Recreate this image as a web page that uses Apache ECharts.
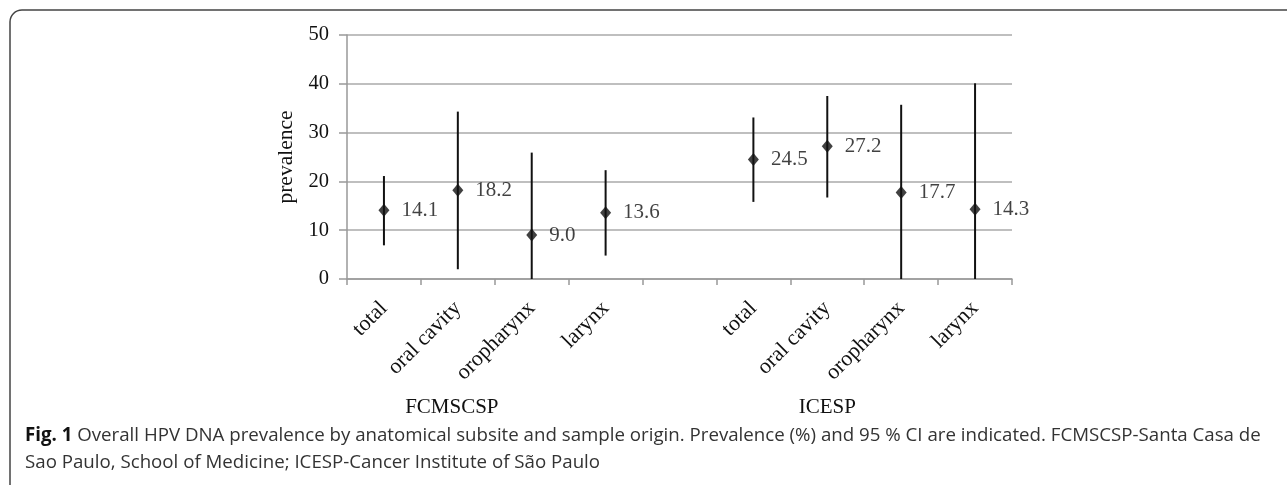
<!DOCTYPE html>
<html>
<head>
<meta charset="utf-8">
<script src="https://cdn.jsdelivr.net/npm/echarts@6/dist/echarts.min.js"></script>
<style>html,body{margin:0;padding:0;background:#fff}#c{width:1287px;height:485px}</style>
</head>
<body>
<div id="c"></div>
<script>
const categories = ['total','oral cavity','oropharynx','larynx','','total','oral cavity','oropharynx','larynx'];
const groups = ['FCMSCSP','ICESP'];
const prevalence = [14.1, 18.2, 9.0, 13.6, null, 24.5, 27.2, 17.7, 14.3];
const ciLow  = [6.9, 2.0, 0.0, 4.8, null, 15.8, 16.7, 0.0, 0.0];
const ciHigh = [21.1, 34.3, 25.9, 22.3, null, 33.1, 37.5, 35.7, 40.1];
const yTicks = [0, 10, 20, 30, 40, 50];

const serif = '"Liberation Serif", "DejaVu Serif", serif';
const chart = echarts.init(document.getElementById('c'));

const errData = [];
const ptData = [];
for (let i = 0; i < categories.length; i++) {
  if (prevalence[i] != null) {
    errData.push([i, ciLow[i], ciHigh[i]]);
    ptData.push([i, prevalence[i]]);
  }
}

const option = {
  animation: false,
  backgroundColor: '#fff',
  grid: { left: 347, right: 275, top: 35, bottom: 206, containLabel: false },
  xAxis: {
    type: 'category',
    data: categories,
    boundaryGap: true,
    axisLine: { lineStyle: { color: '#999', width: 1.5 } },
    axisTick: { show: true, length: 6, lineStyle: { color: '#999', width: 1.5 } },
    axisLabel: { rotate: 45, interval: 0, fontFamily: serif, fontSize: 22, color: '#111', margin: 26 },
    splitLine: { show: false }
  },
  yAxis: {
    type: 'value',
    min: yTicks[0], max: yTicks[yTicks.length - 1], interval: 10,
    name: 'prevalence',
    nameLocation: 'middle',
    nameGap: 50,
    nameRotate: 90,
    nameTextStyle: { fontFamily: serif, fontSize: 21.5, color: '#111' },
    axisLine: { show: true, lineStyle: { color: '#999', width: 1.5 } },
    axisTick: { show: true, length: 8, lineStyle: { color: '#999', width: 1.5 } },
    axisLabel: { fontFamily: serif, fontSize: 20.5, color: '#111', margin: 18 },
    splitLine: { show: true, lineStyle: { color: '#aaa', width: 1.5 } }
  },
  series: [
    {
      type: 'custom',
      data: errData,
      renderItem: function (params, api) {
        const x = api.value(0);
        const p1 = api.coord([x, api.value(1)]);
        const p2 = api.coord([x, api.value(2)]);
        return {
          type: 'line',
          shape: { x1: p1[0], y1: p1[1], x2: p2[0], y2: p2[1] },
          style: { stroke: '#111', lineWidth: 2 }
        };
      },
      z: 2
    },
    {
      type: 'scatter',
      data: ptData,
      symbol: 'diamond',
      symbolSize: [11, 13],
      itemStyle: { color: '#111' },
      label: {
        show: true,
        position: 'right',
        distance: 12,
        fontFamily: serif,
        fontSize: 21,
        color: '#111',
        formatter: p => p.value[1].toFixed(1)
      },
      z: 3
    }
  ],
  graphic: []
};
chart.setOption(option);

const gx1 = chart.convertToPixel({ xAxisIndex: 0 }, 1);
const gx2 = chart.convertToPixel({ xAxisIndex: 0 }, 6);
chart.setOption({
  graphic: [
    {
      type: 'rect', silent: true,
      shape: { x: 10, y: 10, width: 1300, height: 500, r: 12 },
      style: { fill: 'none', stroke: '#444', lineWidth: 1.5 }
    },
    {
      type: 'text', x: gx1 - 6, y: 407,
      style: { text: groups[0], fontFamily: serif, fontSize: 21, fill: '#111', align: 'center', verticalAlign: 'middle' }
    },
    {
      type: 'text', x: gx2, y: 407,
      style: { text: groups[1], fontFamily: serif, fontSize: 21, fill: '#111', align: 'center', verticalAlign: 'middle' }
    },
    {
      type: 'text', x: 25, y: 436,
      style: {
        text: '{b|Fig. 1} Overall HPV DNA prevalence by anatomical subsite and sample origin. Prevalence (%) and 95 % CI are indicated. FCMSCSP-Santa Casa de',
        verticalAlign: 'middle',
        fontFamily: '"Open Sans", sans-serif', fontSize: 18.7, fill: '#333',
        rich: { b: { fontFamily: '"Open Sans", sans-serif', fontWeight: 'bold', fontSize: 18.7, fill: '#111' } }
      }
    },
    {
      type: 'text', x: 25, y: 463,
      style: {
        text: 'Sao Paulo, School of Medicine; ICESP-Cancer Institute of São Paulo',
        verticalAlign: 'middle',
        fontFamily: '"Open Sans", sans-serif', fontSize: 18.7, fill: '#333'
      }
    }
  ]
});
</script>
</body>
</html>
